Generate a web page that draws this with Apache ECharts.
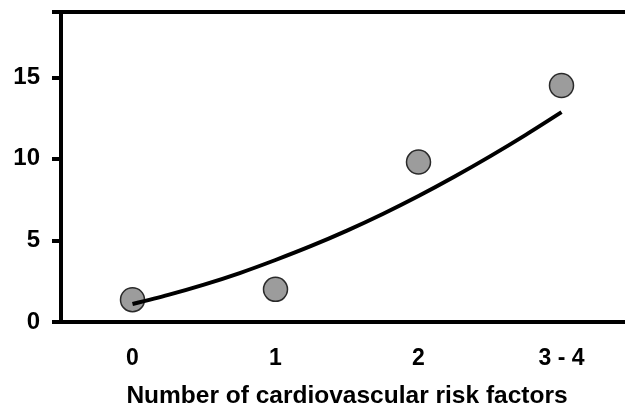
<!DOCTYPE html>
<html>
<head>
<meta charset="utf-8">
<script src="https://cdn.jsdelivr.net/npm/echarts@6/dist/echarts.min.js"></script>
<style>
    html, body { margin: 0; padding: 0; background: #fff; }
    #chart { width: 625px; height: 406px; }
</style>
</head>
<body>
<div id="chart"></div>
<script>
// risk factor groups (category axis)
var categories = ['0', '1', '2', '3 - 4'];
// observed values, one per group
var observed = [1.37, 2.0, 9.8, 14.5];
// fitted curve
var curveX = [0, 0.25, 0.5, 0.75, 1, 1.25, 1.5, 1.75, 2, 2.25, 2.5, 2.75, 3];
var curveY = [1.1, 1.66, 2.29, 3.0, 3.8, 4.66, 5.6, 6.62, 7.72, 8.9, 10.15, 11.47, 12.86];
var yTicks = [0, 5, 10, 15];

var fontFam = '"Liberation Sans", Arial, sans-serif';

var curveData = [];
for (var i = 0; i < curveX.length; i++) {
    curveData.push([curveX[i], curveY[i]]);
}

var myChart = echarts.init(document.getElementById('chart'));
var option = {
    animation: false,
    grid: {
        left: 61,
        top: 12,
        right: -8,
        bottom: 84,
        outerBoundsMode: 'none',
        containLabel: false,
        show: true,
        borderColor: '#000',
        borderWidth: 4,
        backgroundColor: 'transparent'
    },
    xAxis: [
        {
            type: 'category',
            data: categories,
            boundaryGap: true,
            axisLine: {lineStyle: {color: '#000', width: 4}},
            axisTick: {show: false},
            axisLabel: {
                color: '#000',
                fontFamily: fontFam,
                fontWeight: 'bold',
                fontSize: 23,
                margin: 25
            },
            name: 'Number of cardiovascular risk factors',
            nameLocation: 'middle',
            nameGap: 62,
            nameTextStyle: {
                color: '#000',
                fontFamily: fontFam,
                fontWeight: 'bold',
                fontSize: 24.5
            },
            splitLine: {show: false}
        },
        {
            type: 'value',
            min: -0.5,
            max: 3.5,
            show: false
        }
    ],
    yAxis: {
        type: 'value',
        min: 0,
        max: 19,
        interval: 5,
        axisLine: {show: true, onZero: false, lineStyle: {color: '#000', width: 4}},
        axisTick: {show: true, length: 9, lineStyle: {color: '#000', width: 4}},
        axisLabel: {
            color: '#000',
            fontFamily: fontFam,
            fontWeight: 'bold',
            fontSize: 24,
            margin: 21,
            formatter: function (v) {
                return yTicks.indexOf(v) >= 0 ? String(v) : '';
            }
        },
        splitLine: {show: false}
    },
    series: [
        {
            type: 'scatter',
            xAxisIndex: 0,
            data: observed,
            symbol: 'circle',
            symbolSize: 24,
            itemStyle: {color: '#9c9c9c', borderColor: '#2a2a2a', borderWidth: 1.5, opacity: 1},
            z: 2
        },
        {
            type: 'line',
            xAxisIndex: 1,
            data: curveData,
            smooth: 0.3,
            showSymbol: false,
            lineStyle: {color: '#000', width: 4},
            z: 3
        }
    ]
};
myChart.setOption(option);
</script>
</body>
</html>
